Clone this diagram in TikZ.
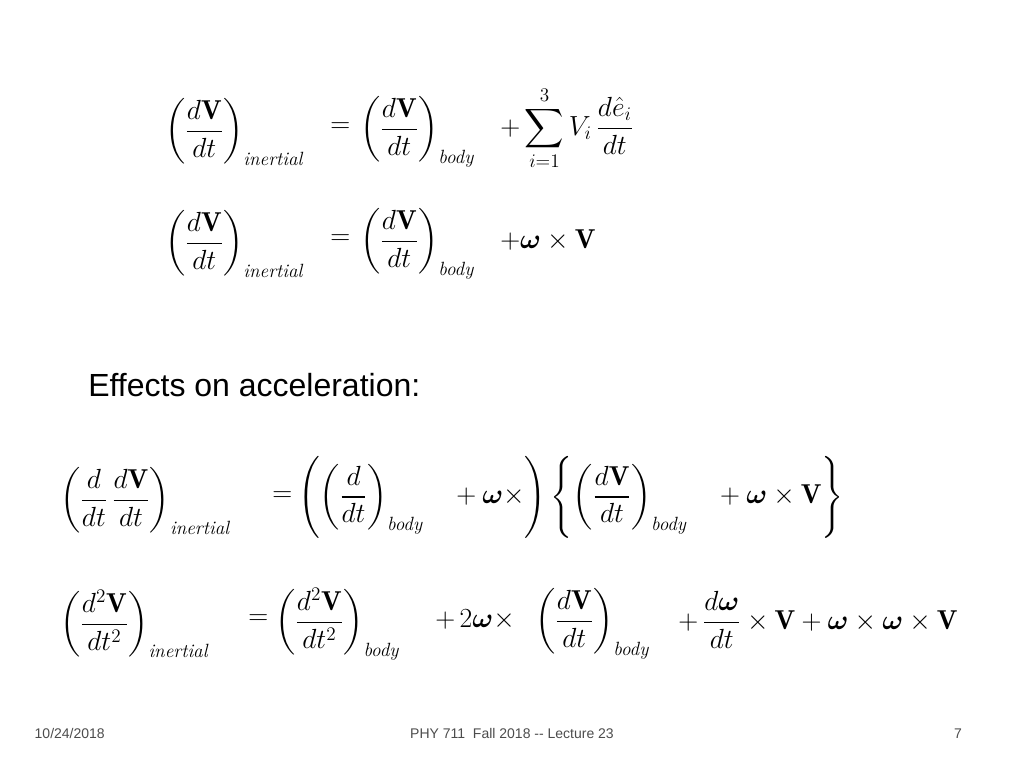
\documentclass[tikz,border=0pt]{standalone}
\usepackage{amsmath,amssymb}
\usepackage{fontspec}
\setsansfont{Liberation Sans}
\begin{document}
\begin{tikzpicture}[x=0.75pt,y=-0.75pt,
  eq/.style={anchor=west,inner sep=0pt,font=\fontsize{20.5}{24}\selectfont},
  foot/.style={font=\sffamily\fontsize{10.5}{12}\selectfont,text=black!70,anchor=base}]
\useasboundingbox (0,0) rectangle (1024,768);
\newcommand{\sub}[1]{\textit{#1}}
% row 1
\node[eq] (a1) at (165,132) {$\displaystyle\left(\frac{d\mathbf V}{dt}\right)_{\sub{inertial}}$};
\node[eq] (e1) at (330,128) {$=$};
\node[eq] (b1) at (360,132) {$\displaystyle\left(\frac{d\mathbf V}{dt}\right)_{\sub{body}}$};
\node[eq] (c1) at (500,128) {$\displaystyle+\sum_{i=1}^{3}V_i\,\frac{d\hat e_i}{dt}$};
% row 2
\node[eq] (a2) at (165,244) {$\displaystyle\left(\frac{d\mathbf V}{dt}\right)_{\sub{inertial}}$};
\node[eq] (e2) at (330,240) {$=$};
\node[eq] (b2) at (360,244) {$\displaystyle\left(\frac{d\mathbf V}{dt}\right)_{\sub{body}}$};
\node[eq] (c2) at (500,240) {$+\boldsymbol\omega\times\mathbf V$};
% text
\node[anchor=west,inner sep=0pt,font=\sffamily\fontsize{24}{28}\selectfont] (t) at (88,385) {Effects on acceleration:};
% row 3
\node[eq] (a3) at (60,501) {$\displaystyle\left(\frac{d}{dt}\,\frac{d\mathbf V}{dt}\right)_{\sub{inertial}}$};
\node[eq] (e3) at (272,497) {$=$};
\node[eq] (b3) at (298,497) {$\displaystyle\left(\left(\frac{d}{dt}\right)_{\sub{body}}\quad+\boldsymbol\omega\times\right)\left\{\left(\frac{d\mathbf V}{dt}\right)_{\sub{body}}\quad+\boldsymbol\omega\times\mathbf V\right\}$};
% row 4
\node[eq] (a4) at (60,624) {$\displaystyle\left(\frac{d^2\mathbf V}{dt^2}\right)_{\sub{inertial}}$};
\node[eq] (e4) at (248,620) {$=$};
\node[eq] (b4) at (275,624) {$\displaystyle\left(\frac{d^2\mathbf V}{dt^2}\right)_{\sub{body}}$};
\node[eq] (c4) at (435,620) {$+\,2\boldsymbol\omega\times$};
\node[eq] (d4) at (535,624) {$\displaystyle\left(\frac{d\mathbf V}{dt}\right)_{\sub{body}}$};
\node[eq] (f4) at (678,620) {$\displaystyle+\,\frac{d\boldsymbol\omega}{dt}\times\mathbf V+\boldsymbol\omega\times\boldsymbol\omega\times\mathbf V$};
% footer
\node[foot,anchor=base west] (f1) at (30,738) {10/24/2018};
\node[foot] (f2) at (512,738) {PHY 711\ \ Fall 2018 -{}- Lecture 23};
\node[foot] (f3) at (958,738) {7};
\end{tikzpicture}
\end{document}
